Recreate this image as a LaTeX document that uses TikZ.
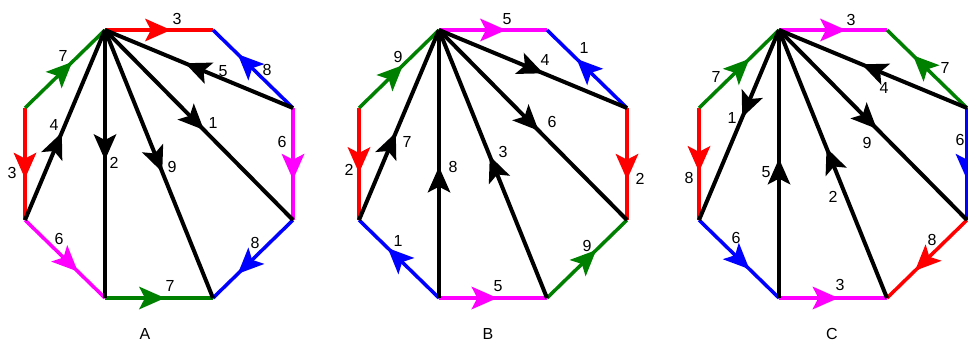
\documentclass[tikz,border=0pt]{standalone}
\usepackage{fontspec}
\setmainfont{Liberation Sans}
\usetikzlibrary{decorations.markings}
\definecolor{cred}{RGB}{255,0,0}
\definecolor{cblue}{RGB}{0,0,255}
\definecolor{cmag}{RGB}{255,0,255}
\definecolor{cgreen}{RGB}{0,128,0}
\tikzset{
  arr/.style={postaction={decorate,decoration={markings,
    mark=at position #1 with {\fill (0pt,0pt) -- (-26pt,11.5pt) -- (-20pt,0pt) -- (-26pt,-11.5pt) -- cycle;}}}},
  side/.style={line width=3.5pt},
  chord/.style={line width=4pt,black},
  lab/.style={font=\fontsize{16}{19}\selectfont,inner sep=0pt},
}
\begin{document}
\begin{tikzpicture}[x=1pt,y=-1pt]
\useasboundingbox (0,0) rectangle (968,341);
\clip (0,0) rectangle (968,341);
% ---------- vertices
\foreach \n/\dx in {A/0,B/334,C/674}{
  \coordinate (\n1) at (105+\dx,30);
  \coordinate (\n2) at (213+\dx,30);
  \coordinate (\n3) at (293+\dx,108);
  \coordinate (\n4) at (293+\dx,220);
  \coordinate (\n5) at (213+\dx,298);
  \coordinate (\n6) at (105+\dx,298);
  \coordinate (\n7) at (25+\dx,220);
  \coordinate (\n8) at (25+\dx,108);
}
% ---------- A sides
\draw[side,cred,arr=0.61] (A1) -- (A2);
\draw[side,cblue,arr=0.69] (A3) -- (A2);
\draw[side,cmag,arr=0.64] (A3) -- (A4);
\draw[side,cblue,arr=0.69] (A4) -- (A5);
\draw[side,cgreen,arr=0.555] (A6) -- (A5);
\draw[side,cmag,arr=0.66] (A7) -- (A6);
\draw[side,cred,arr=0.63] (A8) -- (A7);
\draw[side,cgreen,arr=0.59] (A8) -- (A1);
% A chords
\draw[chord,arr=0.46] (A7) -- (A1);
\draw[chord,arr=0.485] (A1) -- (A6);
\draw[chord,arr=0.53] (A1) -- (A5);
\draw[chord,arr=0.526] (A1) -- (A4);
\draw[chord,arr=0.574] (A3) -- (A1);
% ---------- B sides
\draw[side,cmag,arr=0.62] (B1) -- (B2);
\draw[side,cblue,arr=0.63] (B3) -- (B2);
\draw[side,cred,arr=0.64] (B3) -- (B4);
\draw[side,cgreen,arr=0.615] (B5) -- (B4);
\draw[side,cmag,arr=0.54] (B6) -- (B5);
\draw[side,cblue,arr=0.64] (B6) -- (B7);
\draw[side,cred,arr=0.58] (B8) -- (B7);
\draw[side,cgreen,arr=0.55] (B8) -- (B1);
% B chords
\draw[chord,arr=0.46] (B7) -- (B1);
\draw[chord,arr=0.49] (B6) -- (B1);
\draw[chord,arr=0.53] (B5) -- (B1);
\draw[chord,arr=0.53] (B1) -- (B4);
\draw[chord,arr=0.555] (B1) -- (B3);
% ---------- C sides
\draw[side,cmag,arr=0.62] (C1) -- (C2);
\draw[side,cgreen,arr=0.675] (C3) -- (C2);
\draw[side,cblue,arr=0.64] (C3) -- (C4);
\draw[side,cred,arr=0.65] (C4) -- (C5);
\draw[side,cmag,arr=0.55] (C6) -- (C5);
\draw[side,cblue,arr=0.63] (C7) -- (C6);
\draw[side,cred,arr=0.57] (C8) -- (C7);
\draw[side,cgreen,arr=0.63] (C8) -- (C1);
% C chords
\draw[chord,arr=0.46] (C1) -- (C7);
\draw[chord,arr=0.52] (C6) -- (C1);
\draw[chord,arr=0.56] (C5) -- (C1);
\draw[chord,arr=0.52] (C1) -- (C4);
\draw[chord,arr=0.56] (C3) -- (C1);
% ---------- labels A
\node[lab] (la1) at (177,19) {3};
\node[lab] (la2) at (267,70) {8};
\node[lab] (la3) at (282,142) {6};
\node[lab] (la4) at (255,243) {8};
\node[lab] (la5) at (170,286) {7};
\node[lab] (la6) at (59,239) {6};
\node[lab] (la7) at (12,173) {3};
\node[lab] (la8) at (63,56) {7};
\node[lab] (la9) at (54,125) {4};
\node[lab] (la10) at (114,163) {2};
\node[lab] (la11) at (172,167) {9};
\node[lab] (la12) at (213,123) {1};
\node[lab] (la13) at (223,71) {5};
\node[lab] (ta) at (145,334) {A};
% ---------- labels B
\node[lab] (lb1) at (507,19) {5};
\node[lab] (lb2) at (584,48) {1};
\node[lab] (lb3) at (640,179) {2};
\node[lab] (lb4) at (587,246) {9};
\node[lab] (lb5) at (498,286) {5};
\node[lab] (lb6) at (398,241) {1};
\node[lab] (lb7) at (349,170) {2};
\node[lab] (lb8) at (398,57) {9};
\node[lab] (lb9) at (407,142) {7};
\node[lab] (lb10) at (453,167) {8};
\node[lab] (lb11) at (503,152) {3};
\node[lab] (lb12) at (552,122) {6};
\node[lab] (lb13) at (545,60) {4};
\node[lab] (tb) at (488,334) {B};
% ---------- labels C
\node[lab] (lc1) at (851,20) {3};
\node[lab] (lc2) at (945,68) {7};
\node[lab] (lc3) at (960,140) {6};
\node[lab] (lc4) at (932,240) {8};
\node[lab] (lc5) at (840,285) {3};
\node[lab] (lc6) at (736,238) {6};
\node[lab] (lc7) at (689,178) {8};
\node[lab] (lc8) at (716,77) {7};
\node[lab] (lc9) at (732,118) {1};
\node[lab] (lc10) at (766,172) {5};
\node[lab] (lc11) at (833,197) {2};
\node[lab] (lc12) at (867,143) {9};
\node[lab] (lc13) at (884,88) {4};
\node[lab] (tc) at (832,334) {C};
\end{tikzpicture}
\end{document}
